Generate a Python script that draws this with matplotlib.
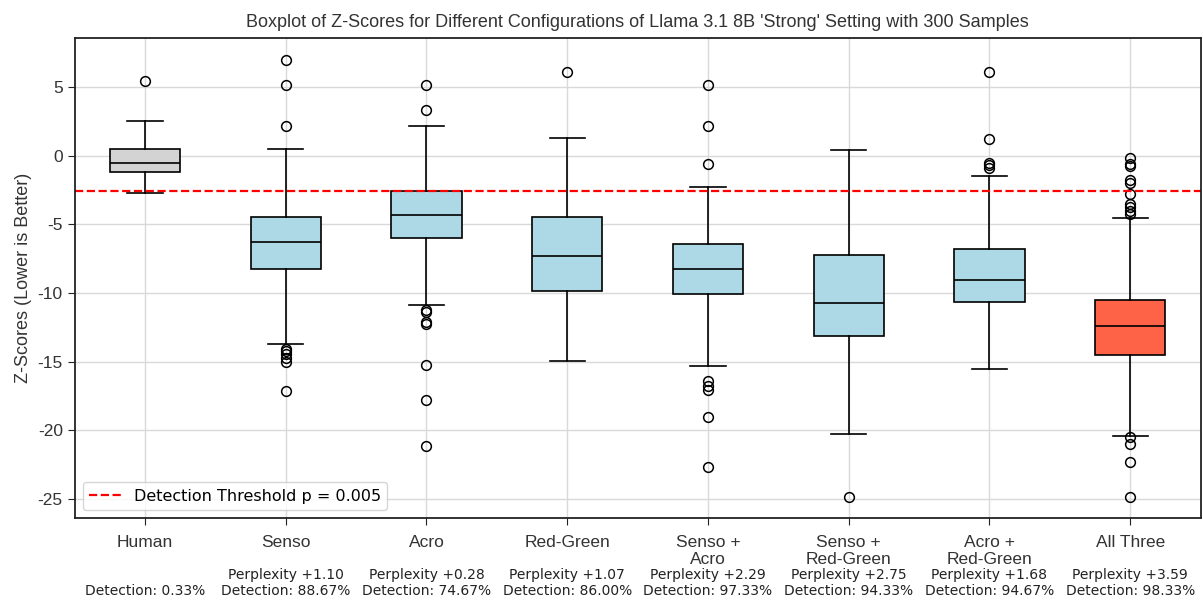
import matplotlib
matplotlib.use("Agg")
import matplotlib.pyplot as plt

plt.rcParams['font.family'] = ['Liberation Sans', 'DejaVu Sans']
plt.rcParams['axes.unicode_minus'] = False

categories = ["Human", "Senso", "Acro", "Red-Green", "Senso +\nAcro",
              "Senso +\nRed-Green", "Acro +\nRed-Green", "All Three"]
perplexity = [None, "+1.10", "+0.28", "+1.07", "+2.29", "+2.75", "+1.68", "+3.59"]
detection = ["0.33%", "88.67%", "74.67%", "86.00%", "97.33%", "94.33%", "94.67%", "98.33%"]

whisker_low = [-2.71, -13.73, -10.89, -14.96, -15.33, -20.30, -15.57, -20.42]
q1 = [-1.16, -8.24, -5.96, -9.87, -10.09, -13.14, -10.65, -14.48]
median = [-0.55, -6.25, -4.29, -7.32, -8.27, -10.76, -9.02, -12.39]
q3 = [0.52, -4.46, -2.57, -4.46, -6.43, -7.25, -6.79, -10.47]
whisker_high = [2.53, 0.52, 2.21, 1.29, -2.28, 0.42, -1.45, -4.53]
outliers = [
    [5.44],
    [7.02, 5.15, 2.14, -14.05, -14.25, -14.45, -14.75, -15.05, -17.12],
    [5.15, 3.33, -11.25, -11.38, -12.10, -12.22, -15.25, -17.80, -21.13],
    [6.12],
    [5.15, 2.14, -0.58, -16.42, -16.78, -17.07, -19.01, -22.66],
    [-24.84],
    [6.12, 1.24, -0.50, -0.70, -0.90],
    [-0.14, -0.63, -0.75, -1.79, -1.98, -2.76, -3.49, -3.73, -4.02, -4.22,
     -20.52, -21.03, -22.31, -24.84],
]
box_colors = ["lightgray", "lightblue", "lightblue", "lightblue", "lightblue",
              "lightblue", "lightblue", "tomato"]
threshold = -2.576

stats = []
for i, c in enumerate(categories):
    stats.append(dict(label=c, whislo=whisker_low[i], q1=q1[i], med=median[i],
                      q3=q3[i], whishi=whisker_high[i], fliers=outliers[i]))

fig, ax = plt.subplots(figsize=(12.03, 6.01), dpi=100)
fig.subplots_adjust(left=0.062, right=0.998, top=0.937, bottom=0.138)

lw = 1.2
bp = ax.bxp(stats, patch_artist=True, widths=0.5,
            medianprops=dict(color='black', linewidth=lw),
            boxprops=dict(edgecolor='black', linewidth=lw),
            whiskerprops=dict(color='black', linewidth=lw),
            capprops=dict(color='black', linewidth=lw),
            flierprops=dict(marker='o', markerfacecolor='none',
                            markeredgecolor='black', markersize=7,
                            markeredgewidth=1.1))
for patch, col in zip(bp['boxes'], box_colors):
    patch.set_facecolor(col)

ax.axhline(threshold, color='red', linestyle='--', linewidth=1.6,
           label='Detection Threshold p = 0.005')

ax.set_xlim(0.5, 8.5)
ax.set_ylim(-26.4, 8.6)
ax.set_yticks([5, 0, -5, -10, -15, -20, -25])
ax.grid(True, color='#d9d9d9', linewidth=1)
ax.set_axisbelow(True)
for s in ax.spines.values():
    s.set_color('#222222')
    s.set_linewidth(1.3)
ax.tick_params(axis='both', labelsize=12.5, labelcolor='#333333',
               color='#222222', length=5)
ax.tick_params(axis='x', pad=7)
ax.set_ylabel('Z-Scores (Lower is Better)', fontsize=13, color='#333333')
ax.set_title("Boxplot of Z-Scores for Different Configurations of Llama 3.1 8B 'Strong' Setting with 300 Samples",
             fontsize=13, color='#333333', pad=8)
ax.legend(loc='lower left', prop={'family': 'DejaVu Sans', 'size': 11.5})

trans = ax.get_xaxis_transform()
for i in range(len(categories)):
    x = i + 1
    if perplexity[i] is not None:
        ax.text(x, -0.118, f"Perplexity {perplexity[i]}", transform=trans,
                ha='center', va='center', fontsize=10, family='DejaVu Sans',
                color='#222222')
    ax.text(x, -0.152, f"Detection: {detection[i]}", transform=trans,
            ha='center', va='center', fontsize=10, family='DejaVu Sans',
            color='#222222')

fig.savefig("out.png", dpi=100)
